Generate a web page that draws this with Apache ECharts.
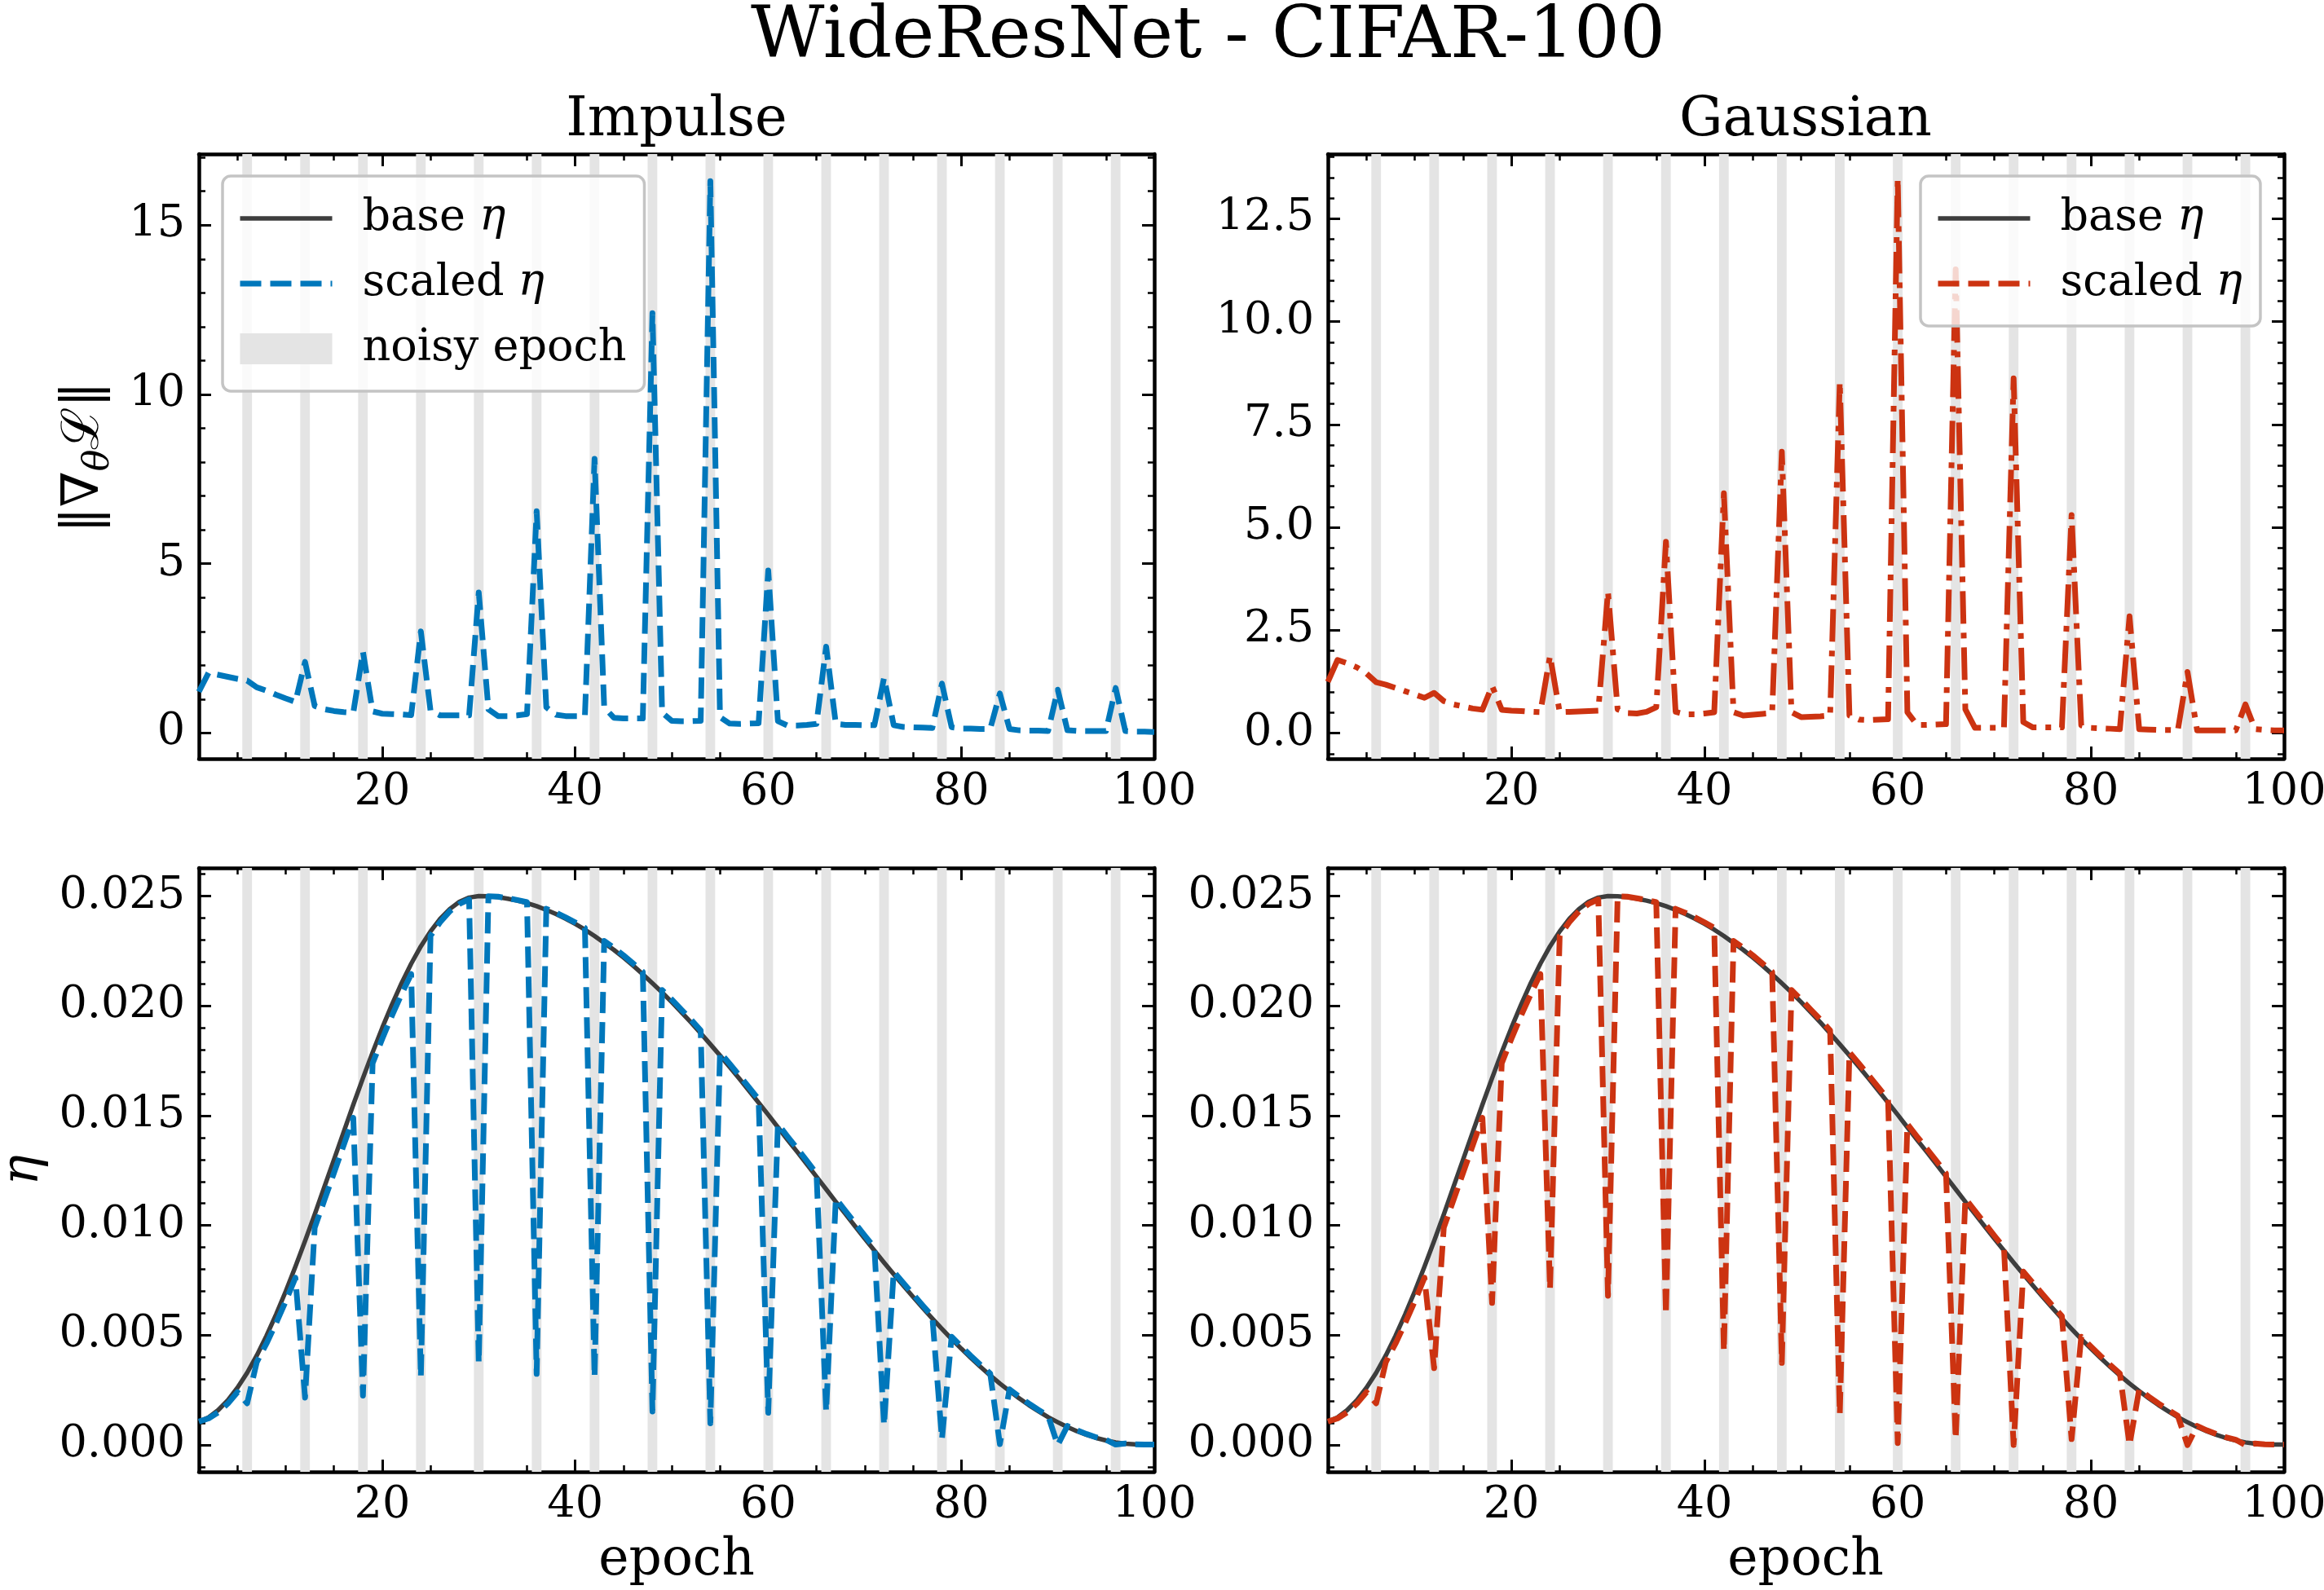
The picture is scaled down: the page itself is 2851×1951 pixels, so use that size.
<!DOCTYPE html>
<html lang="en">
<head>
  <meta charset="UTF-8" />
  <title>WideResNet - CIFAR-100</title>
  <script src="https://cdn.jsdelivr.net/npm/echarts@6.0.0/dist/echarts.min.js"></script>
  <style>
    * { margin: 0; padding: 0; }
    body { background: #fff; }
    #chart { width: 2851px; height: 1951px; }
  </style>
</head>
<body>
  <div id="chart"></div>
  <script>
    // epochs 1..100, noise injected every 6th epoch
    const epochs = Array.from({ length: 100 }, (_, i) => i + 1);
    const noisyEpochs = [6, 12, 18, 24, 30, 36, 42, 48, 54, 60, 66, 72, 78, 84, 90, 96];

    // gradient norm, impulse noise
    const gradImpulse = [
      1.22, 1.78, 1.72, 1.66, 1.60, 1.55, 1.35, 1.25, 1.13, 1.02,
      0.92, 2.10, 0.80, 0.70, 0.65, 0.62, 0.60, 2.40, 0.64, 0.57,
      0.56, 0.55, 0.53, 3.00, 0.66, 0.52, 0.52, 0.52, 0.52, 4.15,
      0.70, 0.50, 0.50, 0.52, 0.56, 6.55, 0.76, 0.54, 0.50, 0.50,
      0.50, 8.10, 0.76, 0.45, 0.43, 0.43, 0.43, 12.40, 0.60, 0.36,
      0.35, 0.35, 0.36, 16.30, 0.47, 0.28, 0.27, 0.28, 0.29, 4.80,
      0.35, 0.22, 0.22, 0.24, 0.27, 2.55, 0.27, 0.24, 0.24, 0.23,
      0.23, 1.63, 0.23, 0.18, 0.17, 0.16, 0.15, 1.46, 0.17, 0.13,
      0.13, 0.12, 0.12, 1.17, 0.12, 0.08, 0.07, 0.07, 0.06, 1.28,
      0.08, 0.06, 0.06, 0.06, 0.06, 1.33, 0.06, 0.04, 0.04, 0.03
    ];
    // gradient norm, gaussian noise
    const gradGaussian = [
      1.25, 1.78, 1.70, 1.60, 1.45, 1.24, 1.18, 1.10, 1.02, 0.94,
      0.86, 0.98, 0.78, 0.70, 0.65, 0.60, 0.57, 1.15, 0.57, 0.55,
      0.54, 0.52, 0.51, 1.88, 0.51, 0.52, 0.53, 0.54, 0.55, 3.44,
      0.58, 0.49, 0.48, 0.52, 0.63, 4.65, 0.52, 0.46, 0.46, 0.48,
      0.51, 5.83, 0.51, 0.43, 0.45, 0.47, 0.49, 6.84, 0.51, 0.39,
      0.40, 0.41, 0.43, 8.54, 0.43, 0.33, 0.32, 0.33, 0.34, 13.48,
      0.51, 0.20, 0.20, 0.21, 0.22, 11.27, 0.58, 0.13, 0.13, 0.13,
      0.13, 8.62, 0.27, 0.14, 0.14, 0.14, 0.14, 5.30, 0.19, 0.13,
      0.12, 0.11, 0.10, 2.84, 0.10, 0.09, 0.08, 0.08, 0.07, 1.49,
      0.07, 0.07, 0.07, 0.07, 0.07, 0.70, 0.10, 0.08, 0.07, 0.07
    ];

    // learning rate schedule
    const baseEta = [
      0.00107, 0.00126, 0.00159, 0.00204, 0.00261, 0.00329, 0.00408, 0.00497, 0.00595, 0.00700,
      0.00812, 0.00929, 0.01050, 0.01175, 0.01300, 0.01425, 0.01550, 0.01671, 0.01788, 0.01900,
      0.02005, 0.02103, 0.02192, 0.02271, 0.02339, 0.02396, 0.02441, 0.02474, 0.02493, 0.02500,
      0.02499, 0.02495, 0.02488, 0.02479, 0.02468, 0.02454, 0.02437, 0.02418, 0.02397, 0.02373,
      0.02347, 0.02318, 0.02287, 0.02255, 0.02220, 0.02183, 0.02144, 0.02103, 0.02061, 0.02017,
      0.01971, 0.01924, 0.01875, 0.01825, 0.01774, 0.01722, 0.01669, 0.01614, 0.01559, 0.01504,
      0.01447, 0.01390, 0.01335, 0.01279, 0.01222, 0.01165, 0.01108, 0.01052, 0.00996, 0.00940,
      0.00886, 0.00831, 0.00778, 0.00726, 0.00675, 0.00625, 0.00576, 0.00529, 0.00483, 0.00439,
      0.00397, 0.00356, 0.00317, 0.00280, 0.00246, 0.00213, 0.00182, 0.00154, 0.00127, 0.00104,
      0.00082, 0.00063, 0.00046, 0.00032, 0.00021, 0.00012, 0.00006, 0.00003, 0.00002, 0.00002
    ];
    const etaImpulse = [
      0.00107, 0.00121, 0.00149, 0.00189, 0.00241, 0.00190, 0.00378, 0.00462, 0.00555, 0.00655,
      0.00762, 0.00216, 0.00990, 0.01115, 0.01240, 0.01365, 0.01490, 0.00225, 0.01738, 0.01850,
      0.01955, 0.02053, 0.02145, 0.00310, 0.02319, 0.02381, 0.02431, 0.02464, 0.02485, 0.00374,
      0.02499, 0.02497, 0.02490, 0.02482, 0.02472, 0.00324, 0.02442, 0.02424, 0.02403, 0.02380,
      0.02355, 0.00310, 0.02296, 0.02264, 0.02230, 0.02193, 0.02155, 0.00153, 0.02072, 0.02029,
      0.01983, 0.01937, 0.01888, 0.00099, 0.01788, 0.01736, 0.01683, 0.01629, 0.01574, 0.00147,
      0.01462, 0.01405, 0.01350, 0.01294, 0.01237, 0.00153, 0.01122, 0.01066, 0.01010, 0.00954,
      0.00899, 0.00090, 0.00790, 0.00738, 0.00687, 0.00636, 0.00587, 0.00027, 0.00493, 0.00449,
      0.00406, 0.00365, 0.00326, 0.00004, 0.00254, 0.00220, 0.00189, 0.00160, 0.00133, 0.00000,
      0.00087, 0.00067, 0.00050, 0.00035, 0.00024, 0.00002, 0.00007, 0.00003, 0.00002, 0.00002
    ];
    const etaGaussian = [
      0.00107, 0.00121, 0.00149, 0.00189, 0.00241, 0.00190, 0.00378, 0.00462, 0.00555, 0.00655,
      0.00762, 0.00350, 0.00990, 0.01115, 0.01240, 0.01365, 0.01490, 0.00647, 0.01738, 0.01850,
      0.01955, 0.02053, 0.02145, 0.00710, 0.02319, 0.02381, 0.02431, 0.02464, 0.02485, 0.00680,
      0.02499, 0.02497, 0.02490, 0.02482, 0.02472, 0.00594, 0.02442, 0.02424, 0.02403, 0.02380,
      0.02355, 0.00428, 0.02296, 0.02264, 0.02230, 0.02193, 0.02155, 0.00374, 0.02072, 0.02029,
      0.01983, 0.01937, 0.01888, 0.00140, 0.01788, 0.01736, 0.01683, 0.01629, 0.01574, 0.00009,
      0.01462, 0.01405, 0.01350, 0.01294, 0.01237, 0.00027, 0.01122, 0.01066, 0.01010, 0.00954,
      0.00899, 0.00000, 0.00790, 0.00738, 0.00687, 0.00636, 0.00587, 0.00027, 0.00493, 0.00449,
      0.00406, 0.00365, 0.00326, 0.00000, 0.00254, 0.00220, 0.00189, 0.00160, 0.00133, 0.00000,
      0.00087, 0.00067, 0.00050, 0.00035, 0.00024, 0.00000, 0.00007, 0.00003, 0.00002, 0.00002
    ];

    // ticks
    const epochTicks = [20, 40, 60, 80, 100];
    const epochMinor = [5, 10, 15, 25, 30, 35, 45, 50, 55, 65, 70, 75, 85, 90, 95];
    const gradTicksL = [0, 5, 10, 15];
    const gradMinorL = [1, 2, 3, 4, 6, 7, 8, 9, 11, 12, 13, 14, 16, 17];
    const gradTicksR = [0, 2.5, 5, 7.5, 10, 12.5];
    const gradMinorR = [-0.5, 0.5, 1, 1.5, 2, 3, 3.5, 4, 4.5, 5.5, 6, 6.5, 7, 8, 8.5, 9, 9.5,
                        10.5, 11, 11.5, 12, 13, 13.5, 14];
    const etaTicks = [0, 0.005, 0.01, 0.015, 0.02, 0.025];
    const etaMinor = [-0.001, 0.001, 0.002, 0.003, 0.004, 0.006, 0.007, 0.008, 0.009, 0.011, 0.012,
                      0.013, 0.014, 0.016, 0.017, 0.018, 0.019, 0.021, 0.022, 0.023, 0.024, 0.026];

    const FONT = 'DejaVu Serif';
    const BLUE = '#0077BB', RED = '#CC3311', BASE = '#3d3d3d', BAND = '#e4e4e4';
    const DASH = [26, 11], DASHDOT = [40, 11, 7, 11];

    const panels = [
      { rect: { left: 244, top: 189, width: 1172, height: 742 }, yMin: -0.76, yMax: 17.1,
        major: gradTicksL, minor: gradMinorL, fmt: v => String(v) },
      { rect: { left: 1629, top: 189, width: 1173, height: 742 }, yMin: -0.62, yMax: 14.07,
        major: gradTicksR, minor: gradMinorR, fmt: v => v.toFixed(1) },
      { rect: { left: 244, top: 1065, width: 1172, height: 741 }, yMin: -0.00122, yMax: 0.02628,
        major: etaTicks, minor: etaMinor, fmt: v => v.toFixed(3) },
      { rect: { left: 1629, top: 1065, width: 1173, height: 741 }, yMin: -0.00122, yMax: 0.02628,
        major: etaTicks, minor: etaMinor, fmt: v => v.toFixed(3) }
    ];

    const grid = [];
    const xAxis = [];
    const yAxis = [];
    const tickLabel = { fontFamily: FONT, fontSize: 54, color: '#000' };

    function makeAxis(gridIndex, position, min, max, ticks, isMajor, withLabel, fmt, isX) {
      return {
        type: 'value', gridIndex, position, min, max,
        axisLine: { show: isMajor, onZero: false, lineStyle: { color: '#000', width: 4.5 } },
        axisTick: {
          show: true, inside: true, customValues: ticks, length: isMajor ? 15 : 8,
          lineStyle: { color: '#000', width: isMajor ? 3 : 2.5 }
        },
        axisLabel: withLabel
          ? Object.assign({ show: true, customValues: ticks, margin: isX ? 15 : 17, formatter: fmt }, tickLabel)
          : { show: false },
        splitLine: { show: false },
        splitArea: { show: false }
      };
    }

    panels.forEach((p, i) => {
      grid[i] = Object.assign({ outerBoundsMode: 'none' }, p.rect);
      grid[i + 4] = Object.assign({ outerBoundsMode: 'none' }, p.rect);
    });
    panels.forEach((p, i) => {
      xAxis.push(makeAxis(i, 'bottom', 1, 100, epochTicks, true, true, v => String(v), true));
      xAxis.push(makeAxis(i, 'top', 1, 100, epochTicks, true, false));
      xAxis.push(makeAxis(i + 4, 'bottom', 1, 100, epochMinor, false, false));
      xAxis.push(makeAxis(i + 4, 'top', 1, 100, epochMinor, false, false));
      yAxis.push(makeAxis(i, 'left', p.yMin, p.yMax, p.major, true, true, p.fmt, false));
      yAxis.push(makeAxis(i, 'right', p.yMin, p.yMax, p.major, true, false));
      yAxis.push(makeAxis(i + 4, 'left', p.yMin, p.yMax, p.minor, false, false));
      yAxis.push(makeAxis(i + 4, 'right', p.yMin, p.yMax, p.minor, false, false));
    });

    function bands(i, name) {
      return {
        type: 'line', name, xAxisIndex: i * 4, yAxisIndex: i * 4, data: [], z: 1, silent: true,
        symbol: 'none', lineStyle: { width: 0 }, itemStyle: { color: BAND },
        markArea: {
          silent: true,
          itemStyle: { color: BAND, opacity: 1 },
          data: noisyEpochs.map(e => [{ xAxis: e - 0.5 }, { xAxis: e + 0.5 }])
        }
      };
    }
    function line(i, name, values, color, width, type, z) {
      return {
        type: 'line', name, xAxisIndex: i * 4, yAxisIndex: i * 4, z, silent: true,
        data: values ? epochs.map((e, k) => [e, values[k]]) : [],
        symbol: 'none', showSymbol: false,
        lineStyle: { color, width, type, cap: 'butt', join: 'round' },
        itemStyle: { color }
      };
    }

    const series = [
      bands(0, 'noisy|L'),
      line(0, 'base|L', null, BASE, 5.5, 'solid', 3),
      line(0, 'scaled|L', gradImpulse, BLUE, 7, DASH, 4),

      bands(1, 'bands1'),
      line(1, 'base|R', null, BASE, 5.5, 'solid', 3),
      line(1, 'scaled|R', null, RED, 7, DASH, 3),
      line(1, 'grad gaussian', gradGaussian, RED, 7, DASHDOT, 4),

      bands(2, 'bands2'),
      line(2, 'base eta impulse', baseEta, BASE, 5.5, 'solid', 3),
      line(2, 'scaled eta impulse', etaImpulse, BLUE, 7, DASH, 4),

      bands(3, 'bands3'),
      line(3, 'base eta gaussian', baseEta, BASE, 5.5, 'solid', 3),
      line(3, 'scaled eta gaussian', etaGaussian, RED, 7, DASH, 4)
    ];

    const legendLabels = {
      base: '{r|base }{i|η}',
      scaled: '{r|scaled }{i|η}',
      noisy: '{r|noisy epoch}'
    };
    function legendItem(n) {
      const kind = n.split('|')[0];
      if (kind === 'noisy') return { name: n, icon: 'rect', itemStyle: { opacity: 1 } };
      return {
        name: n, itemStyle: { opacity: 0 },
        lineStyle: { width: kind === 'base' ? 5.5 : 7 }
      };
    }
    function legend(pos, names) {
      return Object.assign({
        orient: 'vertical', selectedMode: false, z: 10,
        data: names.map(legendItem),
        itemWidth: 113, itemHeight: 38, itemGap: 26,
        padding: [25, 22, 25, 18],
        backgroundColor: 'rgba(255,255,255,0.8)',
        borderColor: '#c4c4c4', borderWidth: 3.5, borderRadius: 10,
        formatter: n => legendLabels[n.split('|')[0]],
        textStyle: {
          padding: [0, 0, 0, 32],
          rich: {
            r: { fontFamily: FONT, fontSize: 54, color: '#000', lineHeight: 54 },
            i: { fontFamily: FONT, fontSize: 54, fontStyle: 'italic', color: '#000', lineHeight: 54 }
          }
        }
      }, pos);
    }

    const txt = (x, y, text, size, extra) => Object.assign({
      type: 'text', x, y, silent: true,
      style: {
        text, fill: '#000', font: size + 'px "' + FONT + '"',
        textAlign: 'center', textVerticalAlign: 'middle'
      }
    }, extra || {});

    const graphic = [
      txt(1482, 47, 'WideResNet - CIFAR-100', 88),
      txt(830, 149, 'Impulse', 67),
      txt(2215, 149, 'Gaussian', 67),
      txt(830, 1916, 'epoch', 63),
      txt(2215, 1916, 'epoch', 63),
      {
        type: 'text', x: 104, y: 561, rotation: Math.PI / 2, silent: true,
        style: {
          text: '{a|‖∇}{s|θ}{a|ℒ‖}', textAlign: 'center', textVerticalAlign: 'middle',
          rich: {
            a: { fontFamily: FONT, fontSize: 63, lineHeight: 80, fill: '#000' },
            s: { fontFamily: FONT, fontSize: 44, fontStyle: 'italic', lineHeight: 56,
                 verticalAlign: 'bottom', fill: '#000' }
          }
        }
      },
      {
        type: 'text', x: 30, y: 1436, rotation: Math.PI / 2, silent: true,
        style: {
          text: 'η', fill: '#000', font: 'italic 63px "' + FONT + '"',
          textAlign: 'center', textVerticalAlign: 'middle'
        }
      }
    ];

    const chart = echarts.init(document.getElementById('chart'));
    chart.setOption({
      animation: false,
      backgroundColor: '#fff',
      grid, xAxis, yAxis, series, graphic,
      legend: [
        legend({ left: 273, top: 216 }, ['base|L', 'scaled|L', 'noisy|L']),
        legend({ left: 2356, top: 216 }, ['base|R', 'scaled|R'])
      ]
    });
  </script>
</body>
</html>
